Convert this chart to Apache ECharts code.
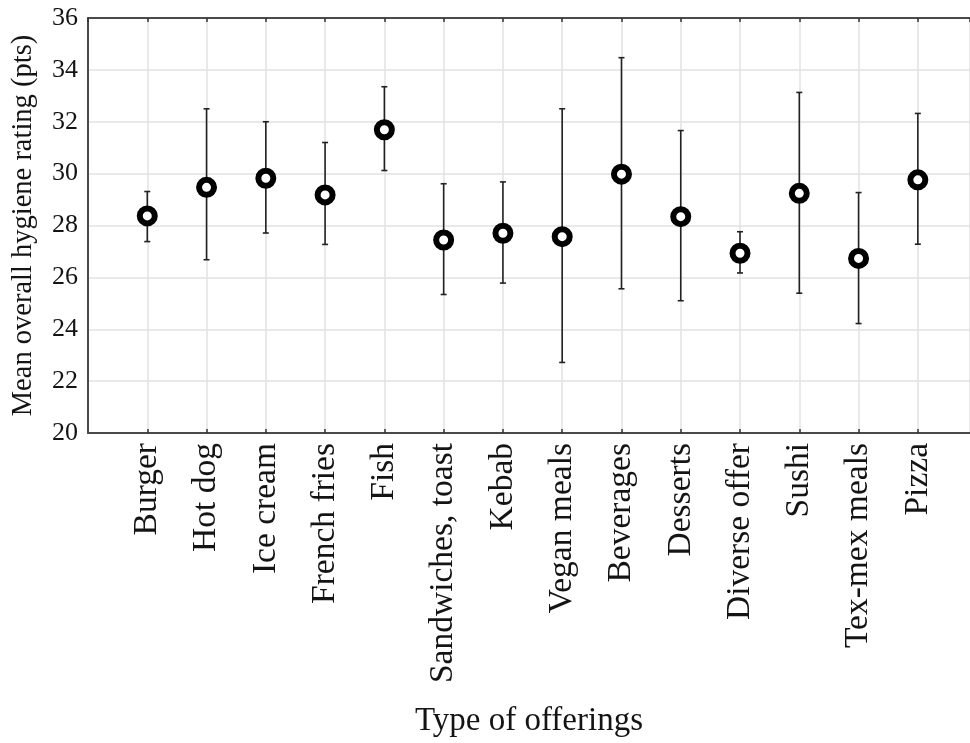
<!DOCTYPE html>
<html>
<head>
<meta charset="utf-8">
<script src="https://cdn.jsdelivr.net/npm/echarts@6/dist/echarts.min.js"></script>
<style>
  html, body { margin: 0; padding: 0; background: #fff; }
  #chart { width: 970px; height: 743px; }
</style>
</head>
<body>
<div id="chart"></div>
<script>
// Offering types along the x axis
const categories = [
  'Burger', 'Hot dog', 'Ice cream', 'French fries', 'Fish',
  'Sandwiches, toast', 'Kebab', 'Vegan meals', 'Beverages', 'Desserts',
  'Diverse offer', 'Sushi', 'Tex-mex meals', 'Pizza'
];
// Mean overall hygiene rating (pts)
const means = [28.37, 29.47, 29.82, 29.18, 31.69, 27.44, 27.70, 27.57, 29.98, 28.34, 26.93, 29.24, 26.73, 29.76];
// Lower and upper ends of the whiskers
const lower = [27.38, 26.68, 27.71, 27.27, 30.12, 25.34, 25.78, 22.72, 25.56, 25.10, 26.17, 25.39, 24.22, 27.28];
const upper = [29.31, 32.50, 32.00, 31.20, 33.35, 29.61, 29.68, 32.50, 34.47, 31.66, 27.76, 33.13, 29.27, 32.32];
// Y axis ticks
const yTicks = [20, 22, 24, 26, 28, 30, 32, 34, 36];

const FONT = '"Liberation Serif", "DejaVu Serif", serif';
const TEXT = '#141414';

const meanData = means.map((m, i) => [i + 1, m]);
const errData = categories.map((c, i) => [i + 1, lower[i], upper[i]]);

const chart = echarts.init(document.getElementById('chart'), null, { renderer: 'canvas' });

const xMin = 0, xMax = 14.88;

chart.setOption({
  animation: false,
  backgroundColor: '#ffffff',
  grid: { left: 88, top: 18, right: 0, bottom: 310 },
  xAxis: [{
    type: 'value',
    min: xMin,
    max: xMax,
    interval: 1,
    name: 'Type of offerings',
    nameLocation: 'middle',
    nameGap: 272,
    nameTextStyle: { fontFamily: FONT, fontSize: 33, color: TEXT },
    axisLine: { show: true, onZero: false, lineStyle: { color: '#4a4a4a', width: 2 } },
    axisTick: { show: true, inside: true, length: 4, lineStyle: { color: '#333', width: 1.5 } },
    splitLine: { show: true, lineStyle: { color: '#e2e2e2', width: 1.5 } },
    axisLabel: {
      rotate: 90,
      margin: 10,
      fontFamily: FONT,
      fontSize: 33.5,
      color: TEXT,
      showMinLabel: false,
      showMaxLabel: false,
      formatter: function (v) {
        const k = Math.round(v);
        if (Math.abs(v - k) > 1e-6 || k < 1 || k > categories.length) return '';
        return categories[k - 1];
      }
    }
  }, {
    type: 'value',
    position: 'top',
    min: xMin,
    max: xMax,
    interval: 1,
    axisLine: { show: true, onZero: false, lineStyle: { color: '#4a4a4a', width: 2 } },
    axisTick: { show: true, inside: true, length: 4, lineStyle: { color: '#333', width: 1.5 } },
    axisLabel: { show: false },
    splitLine: { show: false }
  }],
  yAxis: {
    type: 'value',
    min: yTicks[0],
    max: yTicks[yTicks.length - 1],
    interval: 2,
    name: 'Mean overall hygiene rating (pts)',
    nameLocation: 'middle',
    nameGap: 50,
    nameTextStyle: { fontFamily: FONT, fontSize: 28.5, color: TEXT },
    axisLine: { show: true, lineStyle: { color: '#4a4a4a', width: 2 } },
    axisTick: { show: false },
    splitLine: { show: true, lineStyle: { color: '#e2e2e2', width: 1.5 } },
    axisLabel: { margin: 10, fontFamily: FONT, fontSize: 26, color: TEXT }
  },
  series: [{
    type: 'custom',
    xAxisIndex: 0,
    data: errData,
    encode: { x: 0, y: [1, 2] },
    renderItem: function (params, api) {
      const x = api.value(0);
      const top = api.coord([x, api.value(2)]);
      const bot = api.coord([x, api.value(1)]);
      const half = 3;
      const style = { stroke: '#222222', lineWidth: 1.6 };
      return {
        type: 'group',
        children: [
          { type: 'line', shape: { x1: top[0], y1: top[1], x2: bot[0], y2: bot[1] }, style: style },
          { type: 'line', shape: { x1: top[0] - half, y1: top[1], x2: top[0] + half, y2: top[1] }, style: style },
          { type: 'line', shape: { x1: bot[0] - half, y1: bot[1], x2: bot[0] + half, y2: bot[1] }, style: style }
        ]
      };
    },
    z: 2
  }, {
    type: 'scatter',
    xAxisIndex: 0,
    data: meanData,
    symbol: 'circle',
    symbolSize: 15,
    itemStyle: { color: '#ffffff', borderColor: '#000000', borderWidth: 6, opacity: 1 },
    z: 3
  }]
});
</script>
</body>
</html>
